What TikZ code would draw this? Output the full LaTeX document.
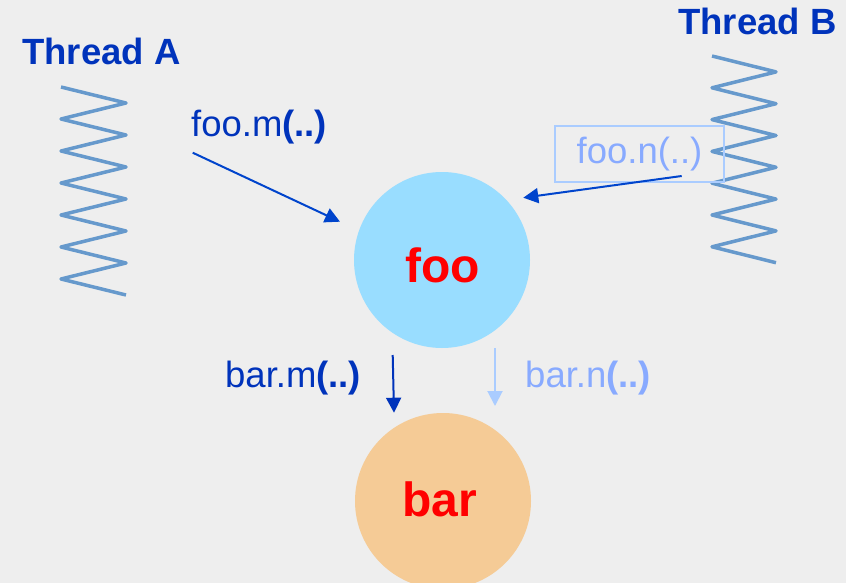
\documentclass[tikz,border=0pt]{standalone}
\usepackage{fontspec}
\setmainfont{Liberation Sans}
\usetikzlibrary{arrows.meta}
\definecolor{bg}{RGB}{238,238,238}
\definecolor{deepblue}{RGB}{0,51,187}
\definecolor{arrowblue}{RGB}{0,68,204}
\definecolor{paleblue}{RGB}{136,170,255}
\definecolor{paleline}{RGB}{170,204,255}
\definecolor{springblue}{RGB}{102,153,204}
\definecolor{foofill}{RGB}{153,221,255}
\definecolor{barfill}{RGB}{245,203,150}
\definecolor{objred}{RGB}{255,0,0}
\tikzset{
  label text/.style={inner sep=0pt, anchor=base west, font=\fontsize{36.5}{40}\selectfont},
  thread title/.style={label text, text=deepblue, font=\fontsize{36.5}{40}\selectfont\bfseries},
  object/.style={circle, inner sep=0pt, minimum size=176pt, draw=none},
  object name/.style={inner sep=0pt, anchor=base, text=objred, font=\fontsize{48}{52}\selectfont\bfseries},
  spring/.style={draw=springblue, line width=3.5pt, line join=round},
  call/.style={-{Triangle[length=15pt,width=15pt]}, line width=2pt},
}
\begin{document}
\begin{tikzpicture}[x=1pt, y=-1pt]
  \fill[bg] (0,0) rectangle (846,583);
  \useasboundingbox (0,0) rectangle (846,583);

  % thread titles
  \node[thread title] (ta) at (22,65) {Thread A};
  \node[thread title] (tb) at (678,35) {Thread B};

  % zig-zag threads
  \draw[spring] (61,87) \foreach \i in {1,...,13} {
      -- ({ifthenelse(mod(\i,2)==1,126,61)}, {87+16*\i}) };
  \draw[spring] (712,56) \foreach \i in {1,...,13} {
      -- ({ifthenelse(mod(\i,2)==1,776,712)}, {56+15.9*\i}) };

  % objects
  \node[object, fill=foofill] (foo) at (442,260) {};
  \node[object name] (fooname) at (442.5,282) {foo};
  \node[object, fill=barfill] (bar) at (443,501) {};
  \node[object name] (barname) at (440,516) {bar};

  % calls into foo
  \node[label text, text=deepblue] (foom) at (191,137) {foo.m\textbf{(..)}};
  \coordinate (foomstart) at (192.7,152.7);
  \coordinate (foomend) at (340,221.7);
  \draw[call, arrowblue] (foomstart) -- (foomend);

  \node[draw=paleline, line width=1.5pt, text=paleblue, inner sep=0pt,
        minimum width=169pt, minimum height=56pt,
        font=\fontsize{36.5}{40}\selectfont] (foon) at (639.5,154) {foo.n(..)};
  \coordinate (foonstart) at (681.7,176);
  \coordinate (foonend) at (523.3,197.7);
  \draw[call, arrowblue] (foonstart) -- (foonend);

  % calls from foo into bar
  \node[label text, text=deepblue] (barm) at (225,387) {bar.m\textbf{(..)}};
  \coordinate (barmstart) at (392.7,355);
  \coordinate (barmend) at (394,412.7);
  \draw[call, deepblue] (barmstart) -- (barmend);

  \node[label text, text=paleblue] (barn) at (525,387) {bar.n\textbf{(..)}};
  \coordinate (barnstart) at (495,348.3);
  \coordinate (barnend) at (495,406);
  \draw[call, paleline] (barnstart) -- (barnend);
\end{tikzpicture}
\end{document}
